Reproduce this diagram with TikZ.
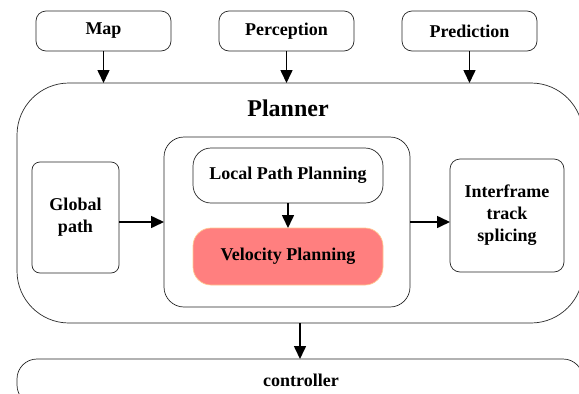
\documentclass[tikz,border=0pt]{standalone}
\usepackage{fontspec}
\setmainfont{Liberation Serif}
\usetikzlibrary{arrows.meta}
\definecolor{velfill}{HTML}{FF7F7F}
\definecolor{velborder}{HTML}{FFC890}
\begin{document}
\begin{tikzpicture}[x=1pt,y=-1pt,
  box/.style={draw=black!85, line width=0.7pt, rounded corners=#1, inner sep=0pt, outer sep=0pt,
    font=\fontsize{18}{22}\selectfont\bfseries, align=center},
  box/.default=10pt,
  conn/.style={line width=1.6pt, -{Triangle[length=13pt,width=12pt]}}]
\useasboundingbox (0,0) rectangle (579,394);
% top inputs
\node[box, minimum width=135pt, minimum height=40pt] (map) at (103.5,31) {Map};
\node[box, minimum width=135pt, minimum height=40pt] (perc) at (286.5,31) {Perception};
\node[box, minimum width=135pt, minimum height=40pt] (pred) at (469.5,31) {Prediction};
% planner
\node[box=52pt, minimum width=566pt, minimum height=240pt] (planner) at (300,203) {};
\node[font=\fontsize{24}{28}\selectfont\bfseries, inner sep=0pt] (ptitle) at (288,108) {Planner};
\node[box=8pt, minimum width=87pt, minimum height=111pt] (global) at (75.5,217.5) {Global\\path};
\node[box=20pt, minimum width=246pt, minimum height=170pt] (inner) at (287,222) {};
\node[box=18pt, minimum width=190pt, minimum height=55pt] (local) at (288,175.5) {Local Path Planning};
\node[box=18pt, fill=velfill, draw=velborder, minimum width=190pt, minimum height=57pt] (vel) at (288,256.5) {Velocity Planning};
\node[box=10pt, minimum width=114pt, minimum height=113pt] (inter) at (507,215.5) {Interframe\\track\\splicing};
% controller
\node[box=20pt, minimum width=566pt, minimum height=46pt] (ctrl) at (300,382) {};
\node[font=\fontsize{18}{22}\selectfont\bfseries, inner sep=0pt] (ctitle) at (301,380) {controller};
% connectors
\draw[conn] (map.south) -- (map.south |- planner.north);
\draw[conn] (perc.south) -- (perc.south |- planner.north);
\draw[conn] (pred.south) -- (pred.south |- planner.north);
\draw[conn] (global.east |- inner.west) -- (inner.west);
\draw[conn] (inner.east) -- (inner.east -| inter.west);
\draw[conn] (local.south) -- (vel.north);
\draw[conn] (planner.south) -- (ctrl.north);
\end{tikzpicture}
\end{document}
